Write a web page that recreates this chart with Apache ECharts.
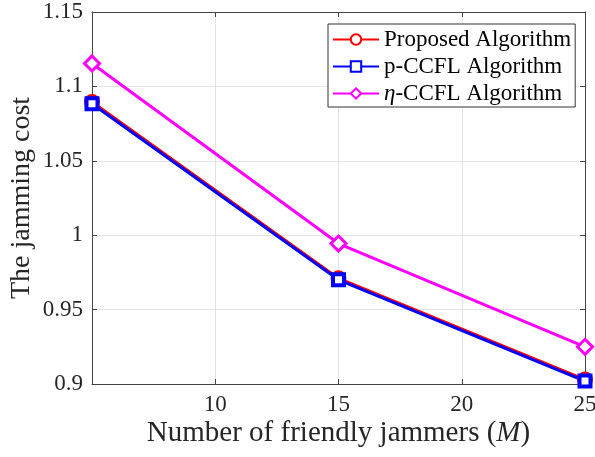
<!DOCTYPE html>
<html>
<head>
<meta charset="utf-8">
<script src="https://cdn.jsdelivr.net/npm/echarts@6/dist/echarts.min.js"></script>
<style>
  * { margin: 0; padding: 0; }
  html, body { width: 595px; height: 457px; background: #fff; }
  #chart { width: 595px; height: 457px; }
</style>
</head>
<body>
<div id="chart"></div>
<script>
// values
const jammers = [5, 15, 25]
const proposed = [1.0895, 0.971, 0.903]
const pCcfl = [1.0884, 0.970, 0.902]
const etaCcfl = [1.1154, 0.9944, 0.925]

const font = 'Liberation Serif'
const txt = '#262626'
const pairs = (ys) => jammers.map((x, i) => [x, ys[i]])

const chart = echarts.init(document.getElementById('chart'))

const mkLine = (name, ys, color, symbol, size, bw) => ({
  name,
  type: 'line',
  data: pairs(ys),
  color,
  symbol,
  symbolSize: size,
  showAllSymbol: true,
  lineStyle: { width: 3, color },
  itemStyle: { color: '#fff', borderColor: color, borderWidth: bw },
  emphasis: { disabled: true },
  animation: false,
})

chart.setOption({
  backgroundColor: '#fff',
  grid: { left: 92, right: 10, top: 12, bottom: 73, outerBoundsMode: 'none', containLabel: false },
  legend: {
    left: 328,
    top: 24,
    orient: 'vertical',
    itemWidth: 46,
    itemHeight: 13,
    itemGap: 4,
    padding: [4, 4, 2, 4],
    borderColor: '#333',
    borderWidth: 1,
    backgroundColor: '#fff',
    textStyle: {
      fontFamily: font,
      fontSize: 23,
      color: '#000',
      rich: { i: { fontFamily: font, fontStyle: 'italic', fontSize: 23, color: '#000' } },
    },
    formatter(name) {
      return name.startsWith('eta') ? '{i|η}-CCFL Algorithm' : name
    },
    data: ['Proposed Algorithm', 'p-CCFL Algorithm', 'eta-CCFL Algorithm'],
  },
  xAxis: [
    {
      type: 'value',
      min: 5,
      max: 25,
      interval: 5,
      name: 'Number of friendly jammers ({i|M})',
      nameLocation: 'middle',
      nameGap: 35,
      nameMoveOverlap: false,
      nameTextStyle: {
        fontFamily: font,
        fontSize: 29,
        color: txt,
        rich: { i: { fontFamily: font, fontStyle: 'italic', fontSize: 29, color: txt } },
      },
      axisLine: { lineStyle: { color: '#444', width: 1 } },
      axisTick: { inside: true, length: 5, lineStyle: { color: '#444' } },
      axisLabel: {
        fontFamily: font,
        fontSize: 23,
        color: txt,
        margin: 9,
        formatter: (v) => (v === 5 ? '' : v),
      },
      splitLine: { show: true, lineStyle: { color: '#e3e3e3', width: 1 } },
    },
    {
      type: 'value',
      position: 'top',
      min: 5,
      max: 25,
      interval: 5,
      axisLine: { show: true, onZero: false, lineStyle: { color: '#444', width: 1 } },
      axisTick: { show: true, inside: true, length: 5, lineStyle: { color: '#444' } },
      axisLabel: { show: false },
      splitLine: { show: false },
    },
  ],
  yAxis: [
    {
      type: 'value',
      min: 0.9,
      max: 1.15,
      interval: 0.05,
      name: 'The jamming cost',
      nameLocation: 'middle',
      nameGap: 56,
      nameMoveOverlap: false,
      nameTextStyle: { fontFamily: font, fontSize: 28, color: txt },
      axisLine: { show: true, lineStyle: { color: '#444', width: 1 } },
      axisTick: { show: true, inside: true, length: 5, lineStyle: { color: '#444' } },
      axisLabel: {
        fontFamily: font,
        fontSize: 23,
        color: txt,
        margin: 9,
        formatter: (v) => String(+v.toFixed(2)),
      },
      splitLine: { show: true, lineStyle: { color: '#e3e3e3', width: 1 } },
    },
    {
      type: 'value',
      position: 'right',
      min: 0.9,
      max: 1.15,
      interval: 0.05,
      axisLine: { show: true, onZero: false, lineStyle: { color: '#444', width: 1 } },
      axisTick: { show: true, inside: true, length: 5, lineStyle: { color: '#444' } },
      axisLabel: { show: false },
      splitLine: { show: false },
    },
  ],
  series: [
    mkLine('Proposed Algorithm', proposed, '#ff0000', 'circle', 12, 4),
    mkLine('p-CCFL Algorithm', pCcfl, '#0000ff', 'rect', 11, 4),
    mkLine('eta-CCFL Algorithm', etaCcfl, '#ff00ff', 'diamond', 15, 3),
  ],
})
</script>
</body>
</html>
